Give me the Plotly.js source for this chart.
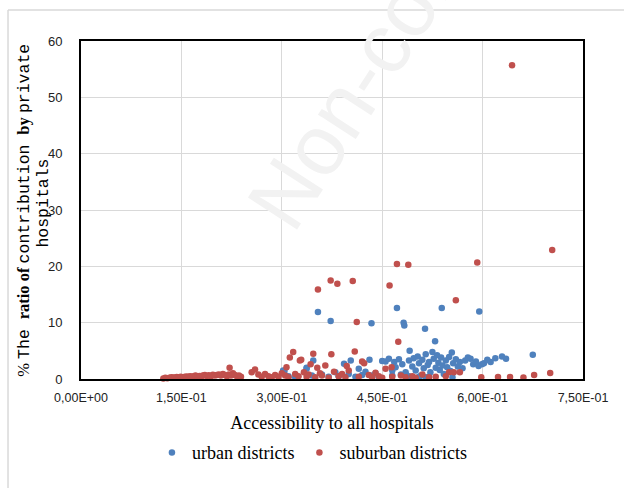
<!DOCTYPE html>
<html>
<head>
<meta charset="utf-8">
<script src="https://cdn.plot.ly/plotly-3.0.1.min.js"></script>
<style>html,body{margin:0;padding:0;background:#fff;}#chart{width:624px;height:488px;}</style>
</head>
<body>
<div id="chart"></div>
<script>
// ---- data ----
const seriesNames = ["urban districts", "suburban districts"];

const urbanX = [0.354,0.373,0.434,0.472,0.482,0.483,0.514,0.539,0.595,0.529,0.491,0.554,0.675,
  0.302,0.304,0.310,0.320,0.337,0.337,0.345,0.347,0.360,0.370,0.380,0.385,0.393,0.400,0.403,0.410,
  0.415,0.420,0.425,0.431,0.435,0.440,0.445,0.450,0.455,0.460,0.465,0.468,0.470,0.475,0.478,0.480,
  0.485,0.490,0.495,0.497,0.500,0.503,0.505,0.508,0.510,0.512,0.515,0.518,0.520,0.522,0.525,0.527,
  0.530,0.532,0.534,0.536,0.538,0.540,0.542,0.545,0.547,0.550,0.552,0.556,0.560,0.563,0.566,0.570,
  0.574,0.578,0.582,0.586,0.590,0.594,0.599,0.602,0.607,0.612,0.619,0.629,0.635,0.555,0.520,0.515,
  0.505,0.490,0.465];
const urbanY = [11.9,10.3,9.9,12.6,10.0,9.5,8.9,12.6,12.0,6.7,5.0,4.7,4.3,
  1.5,1.4,0.5,0.3,2.0,1.8,0.6,3.3,0.8,0.4,1.2,0.5,2.7,0.9,3.3,0.4,
  1.8,0.7,1.3,3.4,0.6,1.0,0.3,3.2,3.1,3.6,1.5,3.0,2.1,3.5,0.8,2.6,
  1.2,3.3,2.2,3.7,1.5,4.0,2.8,0.6,3.4,1.9,4.4,2.5,3.0,1.2,4.8,3.6,
  2.0,4.2,2.9,1.6,3.8,2.4,0.9,3.3,2.1,3.9,1.4,2.8,3.5,2.2,3.0,1.9,
  3.3,3.8,3.6,2.6,3.1,2.3,2.6,2.8,3.4,3.0,3.7,4.0,3.6,0.3,0.4,0.3,
  0.4,0.5,0.6];

const suburbanX = [0.123,0.126,0.129,0.132,0.135,0.138,0.140,0.143,0.146,0.149,0.151,0.154,0.157,
  0.160,0.163,0.165,0.168,0.171,0.174,0.177,0.180,0.182,0.185,0.188,0.191,0.194,0.197,0.200,0.203,
  0.206,0.209,0.212,0.215,0.218,0.221,0.224,0.227,0.230,0.233,0.236,0.239,0.222,
  0.255,0.260,0.265,0.270,0.275,0.280,0.285,0.290,0.295,0.300,0.305,0.307,0.312,0.317,0.310,0.320,
  0.325,0.327,0.329,0.333,0.337,0.340,0.343,0.347,0.350,0.353,0.354,0.357,0.360,0.365,0.370,0.373,
  0.374,0.378,0.383,0.385,0.390,0.395,0.397,0.400,0.406,0.409,0.412,0.415,0.420,0.423,0.430,0.435,
  0.440,0.445,0.450,0.455,0.461,0.464,0.465,0.472,0.474,0.478,0.485,0.489,0.495,0.500,0.510,0.520,
  0.530,0.545,0.550,0.557,0.560,0.566,0.592,0.598,0.623,0.641,0.644,0.661,0.677,0.701,0.704];
const suburbanY = [0.1,0.2,0.15,0.2,0.3,0.25,0.2,0.35,0.3,0.4,0.3,0.35,0.45,
  0.4,0.5,0.35,0.5,0.6,0.45,0.55,0.5,0.6,0.7,0.55,0.65,0.5,0.75,0.6,0.7,
  0.8,0.6,0.9,0.7,0.5,0.8,0.6,1.0,0.7,0.5,0.6,0.4,2.0,
  1.2,1.7,0.8,0.4,0.9,0.5,0.3,0.7,0.4,1.0,0.6,2.1,3.8,4.8,0.3,0.9,
  0.5,3.3,3.4,1.2,0.4,0.8,2.6,4.5,0.3,2.0,15.9,1.0,0.6,2.4,0.2,17.5,
  4.4,1.3,16.9,0.5,0.9,0.3,2.3,1.5,17.4,4.9,10.1,0.4,3.1,2.8,0.7,0.3,
  1.1,0.5,0.2,1.8,16.6,2.1,0.4,20.4,6.6,0.6,0.3,20.3,0.5,0.2,0.8,0.3,
  0.4,0.5,1.2,1.2,14.0,1.2,20.7,0.3,0.35,0.35,55.7,0.25,0.7,1.07,22.9];

const xTickVals = [0, 0.15, 0.30, 0.45, 0.60, 0.75];
const xTickText = ["0,00E+00", "1,50E-01", "3,00E-01", "4,50E-01", "6,00E-01", "7,50E-01"];
const yTickVals = [0, 10, 20, 30, 40, 50, 60];

const xTitle = "Accessibility to all hospitals";
const yTitleLine1 = '<span style="font-family:\'Liberation Serif\'">% </span>' +
  '<span style="font-family:\'Liberation Mono\'">The </span>' +
  '<b>ratio of </b>' +
  '<span style="font-family:\'Liberation Mono\'">contribution </span>' +
  '<b>by </b>' +
  '<span style="font-family:\'Liberation Mono\'">private</span>';
const yTitleLine2 = '<span style="font-family:\'Liberation Mono\'">hospitals</span>';
const watermark = "Non-commercial";

const traces = [
  {type: "scatter", mode: "markers", name: seriesNames[0], x: urbanX, y: urbanY, cliponaxis: false,
   marker: {color: "#4F81BD", size: 6.5}},
  {type: "scatter", mode: "markers", name: seriesNames[1], x: suburbanX, y: suburbanY, cliponaxis: false,
   marker: {color: "#C0504D", size: 6.5}}
];

const layout = {
  width: 624, height: 488,
  margin: {l: 81, r: 41, t: 41, b: 109, pad: 0},
  paper_bgcolor: "#ffffff", plot_bgcolor: "#ffffff",
  showlegend: true,
  legend: {orientation: "h", x: 0.46, xanchor: "center", y: -0.218, yanchor: "middle",
    font: {family: "Liberation Serif", size: 18, color: "#000"}, itemwidth: 30, tracegroupgap: 0},
  xaxis: {range: [0, 0.75], tickvals: xTickVals, ticktext: xTickText, showgrid: true,
    gridcolor: "#d9d9d9", gridwidth: 1, zeroline: false, showline: true, linecolor: "#000",
    linewidth: 2, mirror: true, ticks: "", ticklen: 0, ticklabelstandoff: 6,
    tickfont: {family: "Liberation Sans", size: 12.5, color: "#222"},
    title: {text: xTitle, font: {family: "Liberation Serif", size: 18, color: "#000"}, standoff: 12}},
  yaxis: {range: [0, 60], tickvals: yTickVals, showgrid: true, gridcolor: "#d9d9d9", gridwidth: 1,
    zeroline: false, showline: true, linecolor: "#000", linewidth: 2, mirror: true, ticks: "",
    ticklabelstandoff: 14,
    tickfont: {family: "Liberation Sans", size: 13, color: "#222"}},
  annotations: [
    {text: watermark, xref: "paper", yref: "paper", x: 0.71, y: 1.24, xanchor: "center", yanchor: "middle",
     textangle: -57, showarrow: false, font: {family: "Liberation Sans", size: 85, color: "#f2f2f2"}},
    {text: yTitleLine1, xref: "paper", yref: "paper", x: -0.114, y: 0.5, xanchor: "center", yanchor: "middle",
     textangle: -90, showarrow: false, font: {family: "Liberation Serif", size: 16.5, color: "#000"}},
    {text: yTitleLine2, xref: "paper", yref: "paper", x: -0.075, y: 0.52, xanchor: "center", yanchor: "middle",
     textangle: -90, showarrow: false, font: {family: "Liberation Serif", size: 16.5, color: "#000"}}
  ],
  shapes: [
    {type: "line", xref: "paper", yref: "paper", x0: -0.1454, x1: 1.1, y0: 1.0917, y1: 1.0917,
     line: {color: "#d9d9d9", width: 1.5}},
    {type: "line", xref: "paper", yref: "paper", x0: -0.1454, x1: -0.1454, y0: 1.0917, y1: -0.33,
     line: {color: "#d9d9d9", width: 1.5}}
  ]
};

Plotly.newPlot("chart", traces, layout, {displayModeBar: false, staticPlot: true});
</script>
</body>
</html>
